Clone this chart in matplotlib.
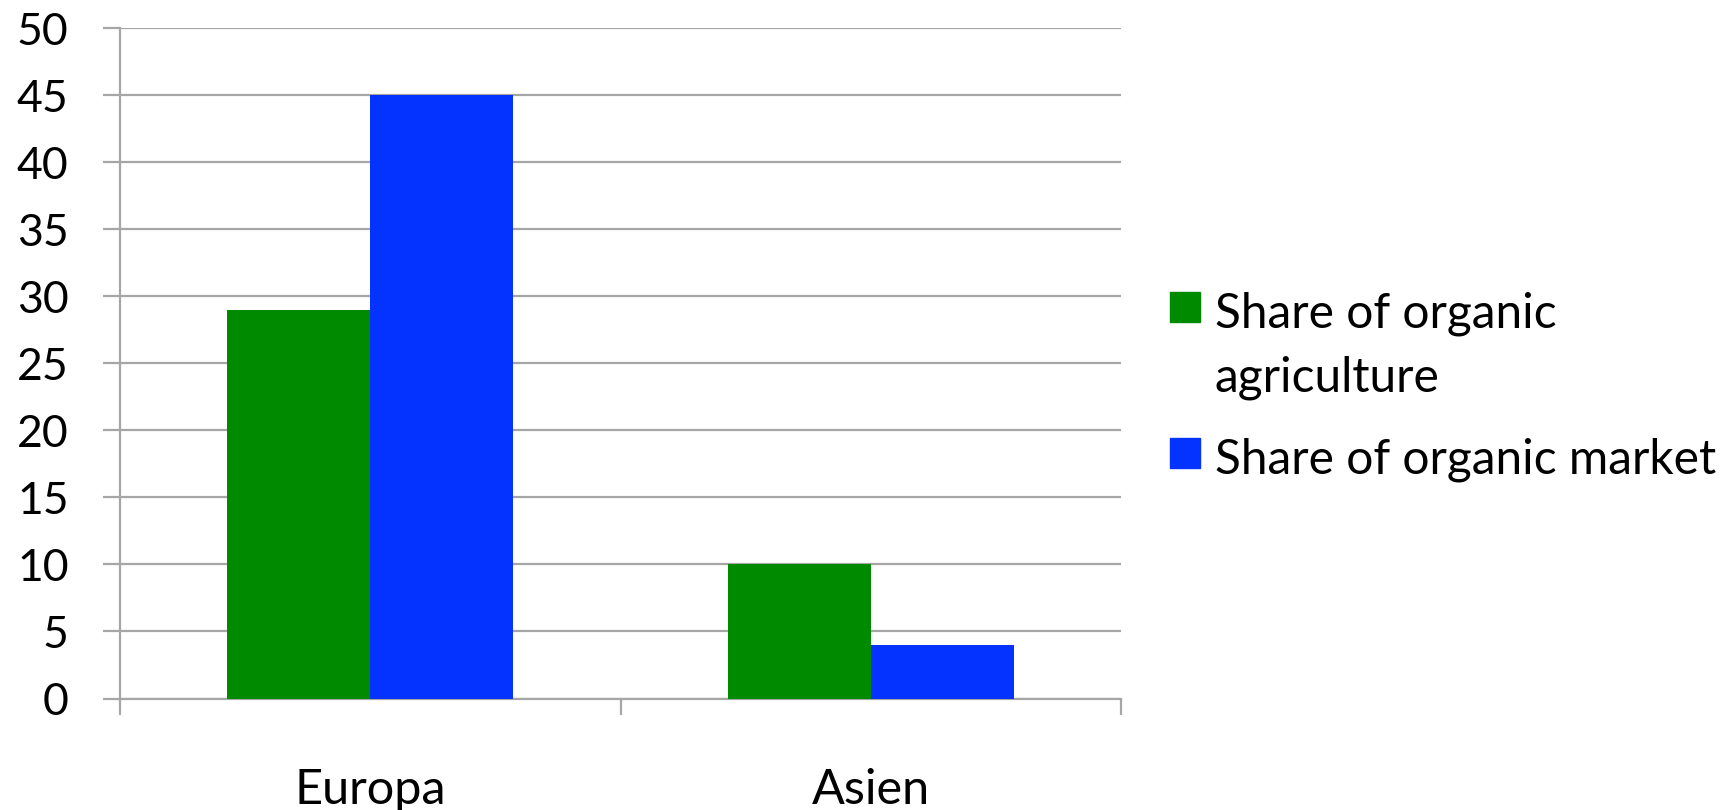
import numpy as np
import matplotlib
matplotlib.use('Agg')
import matplotlib.pyplot as plt
from matplotlib.patches import Rectangle

categories = ['Europa', 'Asien']
agriculture = [29, 10]
market = [45, 4]
series_names = [['Share of organic', 'agriculture'], ['Share of organic market']]
yticks = [0, 5, 10, 15, 20, 25, 30, 35, 40, 45, 50]

green = '#008a00'
blue = '#0433ff'
grid_c = '#a6a6a6'

plt.rcParams['font.family'] = ['Lato', 'DejaVu Sans']

W, H = 1736, 810
fig = plt.figure(figsize=(W / 100, H / 100), dpi=100)
ax = fig.add_axes([120 / W, 1 - 698.5 / H, (1121 - 120) / W, (698.5 - 28) / H])

x = np.arange(len(categories))
w = 0.286
ax.bar(x - w / 2, agriculture, w, color=green, zorder=3)
ax.bar(x + w / 2, market, w, color=blue, zorder=3)

ax.set_xlim(-0.5, len(categories) - 0.5)
ax.set_ylim(0, 50)
ax.set_yticks(yticks)
ax.yaxis.grid(True, color=grid_c, linewidth=1.6, zorder=0)
ax.tick_params(axis='y', length=12, width=1.6, color=grid_c, pad=25, labelsize=32)

ax.set_xticks(x)
ax.set_xticklabels(categories)
ax.set_xticks(np.arange(len(categories) + 1) - 0.5, minor=True)
ax.tick_params(axis='x', which='major', length=0, pad=50, labelsize=35)
ax.tick_params(axis='x', which='minor', length=11.5, width=1.6, color=grid_c)

for s in ['top', 'right']:
    ax.spines[s].set_visible(False)
for s in ['left', 'bottom']:
    ax.spines[s].set_color(grid_c)
    ax.spines[s].set_linewidth(1.6)

# legend drawn by hand so the marker sits on the first text line
entry_top = [292, 438]
line_gap = 64
for colors_, lines, top in zip([green, blue], series_names, entry_top):
    fig.patches.append(Rectangle((1170 / W, 1 - (top + 30) / H), 30 / W, 30 / H,
                                 color=colors_, transform=fig.transFigure, figure=fig))
    for k, line in enumerate(lines):
        fig.text(1215 / W, 1 - (top + 35 + k * line_gap) / H, line,
                 fontsize=34.5, va='baseline', ha='left')

fig.savefig('out.png', dpi=100)
